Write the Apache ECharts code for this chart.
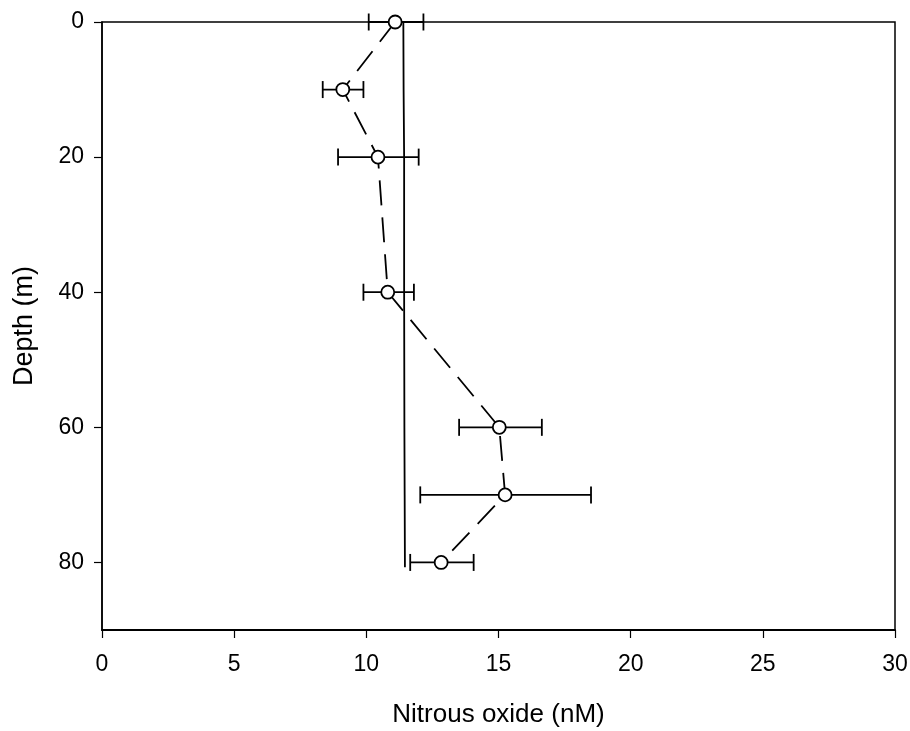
<!DOCTYPE html>
<html>
<head>
<meta charset="utf-8">
<script src="https://cdn.jsdelivr.net/npm/echarts@6/dist/echarts.min.js"></script>
<style>html,body{margin:0;padding:0;background:#fff}#c{width:910px;height:731px}</style>
</head>
<body>
<div id="c"></div>
<script>
var depths = [0, 10, 20, 40, 60, 70, 80];
var n2o = [11.09, 9.11, 10.44, 10.81, 15.03, 15.25, 12.83];
var errLow = [10.09, 8.35, 8.93, 9.89, 13.51, 12.04, 11.66];
var errHigh = [12.16, 9.89, 11.98, 11.80, 16.64, 18.50, 14.06];
var satDepths = [0, 10, 20, 40, 60, 70, 80.7];
var satValues = [11.40, 11.41, 11.43, 11.43, 11.44, 11.45, 11.46];
var xTicks = [0, 5, 10, 15, 20, 25, 30];
var yTicks = [0, 20, 40, 60, 80];

var font = '"Liberation Sans", Arial, sans-serif';
var chart = echarts.init(document.getElementById('c'));
var errData = depths.map(function (d, i) { return [errLow[i], errHigh[i], d]; });

chart.setOption({
  animation: false,
  grid: { left: 102, right: 15, top: 22, bottom: 101, outerBoundsMode: 'none', containLabel: false,
    show: true, borderColor: '#000', borderWidth: 1.5, backgroundColor: 'transparent' },
  xAxis: {
    type: 'value', min: 0, max: 30, interval: 5,
    name: 'Nitrous oxide (nM)', nameLocation: 'middle', nameGap: 72,
    nameTextStyle: { fontFamily: font, fontSize: 26, color: '#000' },
    axisLine: { show: true, onZero: false, lineStyle: { color: '#000', width: 2 } },
    axisTick: { show: true, inside: false, length: 8, lineStyle: { color: '#000', width: 1.2 } },
    axisLabel: { fontFamily: font, fontSize: 23, color: '#000', margin: 23,
      formatter: function (v) { return xTicks.indexOf(v) >= 0 ? String(v) : ''; } },
    splitLine: { show: false }
  },
  yAxis: {
    type: 'value', min: 0, max: 90, interval: 20, inverse: true,
    name: 'Depth (m)', nameLocation: 'middle', nameGap: 64,
    nameTextStyle: { fontFamily: font, fontSize: 27, color: '#000' },
    axisLine: { show: true, onZero: false, lineStyle: { color: '#000', width: 1.5 } },
    axisTick: { show: true, inside: false, length: 8, lineStyle: { color: '#000', width: 1.2 } },
    axisLabel: { fontFamily: font, fontSize: 23, color: '#000', margin: 18, showMaxLabel: false,
      formatter: function (v) { return yTicks.indexOf(v) >= 0 ? String(v) : ''; } },
    splitLine: { show: false }
  },
  series: [
    {
      type: 'line', data: satValues.map(function (v, i) { return [v, satDepths[i]]; }),
      showSymbol: false, symbol: 'none', lineStyle: { color: '#000', width: 1.8 }, z: 2
    },
    {
      type: 'custom', z: 3,
      data: errData,
      renderItem: function (params, api) {
        var y = api.value(2);
        var p1 = api.coord([api.value(0), y]);
        var p2 = api.coord([api.value(1), y]);
        var h = 8.5;
        var st = { stroke: '#000', lineWidth: 1.8 };
        return { type: 'group', children: [
          { type: 'line', shape: { x1: p1[0], y1: p1[1], x2: p2[0], y2: p2[1] }, style: st },
          { type: 'line', shape: { x1: p1[0], y1: p1[1] - h, x2: p1[0], y2: p1[1] + h }, style: st },
          { type: 'line', shape: { x1: p2[0], y1: p2[1] - h, x2: p2[0], y2: p2[1] + h }, style: st }
        ] };
      }
    },
    {
      type: 'line', z: 4,
      data: n2o.map(function (v, i) { return [v, depths[i]]; }),
      symbol: 'circle', symbolSize: 13, showSymbol: true,
      itemStyle: { color: '#fff', borderColor: '#000', borderWidth: 1.8 },
      lineStyle: { color: '#000', width: 1.8, type: [25, 12] }
    }
  ]
});
</script>
</body>
</html>
